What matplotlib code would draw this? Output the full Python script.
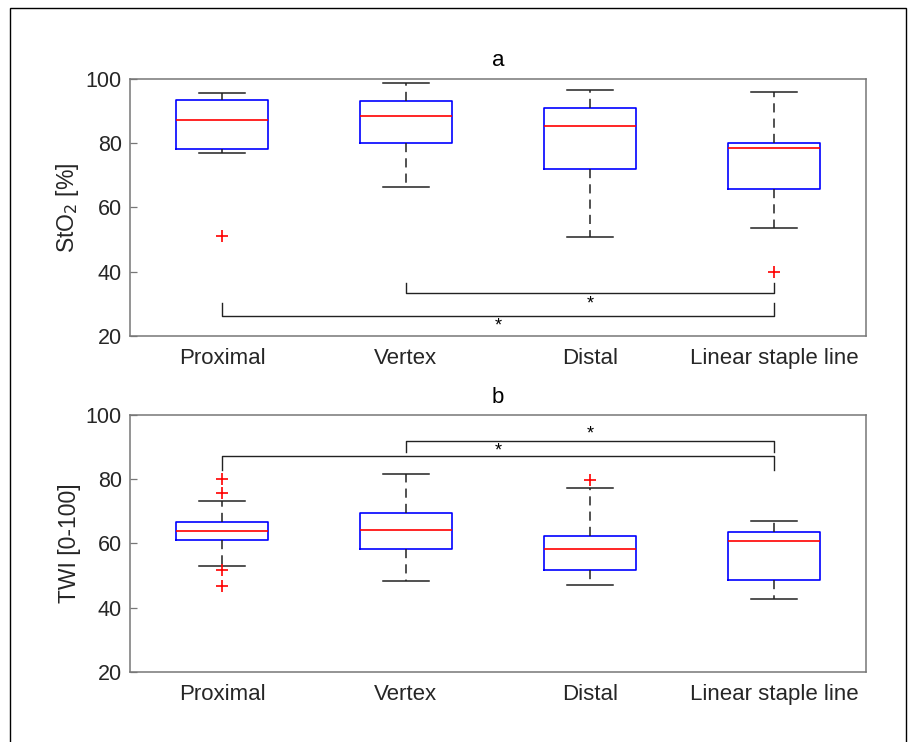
"""
Box plots of StO2 and TWI per measurement site.
"""
import numpy as np
import matplotlib
matplotlib.use('Agg')
import matplotlib.pyplot as plt
import matplotlib.patches as patches

plt.rcParams['font.family'] = ['Liberation Sans', 'DejaVu Sans']

sites = ['Proximal', 'Vertex', 'Distal', 'Linear staple line']

# panel a: StO2 [%]
sto2_whislo = [77.1, 66.3, 50.7, 53.7]
sto2_q1 = [78.1, 80.0, 72.0, 65.9]
sto2_med = [87.2, 88.5, 85.3, 78.6]
sto2_q3 = [93.4, 93.2, 91.1, 80.1]
sto2_whishi = [95.7, 98.8, 96.7, 96.0]
sto2_fliers = [[51.2], [], [], [39.9]]

# panel b: TWI [0-100]
twi_whislo = [52.8, 48.4, 46.9, 42.6]
twi_q1 = [61.1, 58.1, 51.7, 48.5]
twi_med = [63.9, 64.1, 58.3, 60.6]
twi_q3 = [66.7, 69.6, 62.4, 63.6]
twi_whishi = [73.2, 81.5, 77.4, 67.1]
twi_fliers = [[80.2, 75.8, 51.8, 46.8], [], [79.8], []]

# significance brackets: (group i, group j, line level, tick end, star level)
sto2_sig = [(2, 4, 33.3, 36.6, 29.9), (1, 4, 26.3, 30.4, 23.0)]
twi_sig = [(2, 4, 92.0, 88.6, 94.0), (1, 4, 87.1, 82.9, 88.9)]


def make_stats(lo, q1, med, q3, hi, fl):
    stats = []
    for i in range(len(lo)):
        stats.append({'whislo': lo[i], 'q1': q1[i], 'med': med[i],
                      'q3': q3[i], 'whishi': hi[i],
                      'fliers': np.array(fl[i])})
    return stats


def draw_panel(ax, stats, sig, ylabel, title):
    ax.bxp(stats, positions=np.arange(1, 5), widths=0.5,
           showfliers=True,
           boxprops=dict(color='#0000ff', lw=1.2),
           medianprops=dict(color='#ff0000', lw=1.2),
           whiskerprops=dict(color='#222222', lw=1.1,
                             linestyle=(0, (6, 4))),
           capprops=dict(color='#222222', lw=1.1),
           capwidths=0.25,
           flierprops=dict(marker='+', markeredgecolor='#ff0000',
                           markersize=8, mew=1.2))
    for i, j, lev, end, star in sig:
        ax.plot([i, i, j, j], [end, lev, lev, end], color='#222222',
                lw=1.0)
        ax.text((i + j) / 2, star, '*', ha='center', va='center',
                fontsize=13, color='k')
    ax.set_xlim(0.5, 4.5)
    ax.set_ylim(20, 100)
    ax.set_yticks([20, 40, 60, 80, 100])
    ax.set_xticks(np.arange(1, 5))
    ax.set_xticklabels(sites)
    ax.tick_params(axis='x', length=0, pad=9, labelsize=16,
                   labelcolor='#262626')
    ax.tick_params(axis='y', direction='in', length=5, width=0.9,
                   color='#777777', labelsize=15.5, labelcolor='#262626',
                   pad=6)
    for sp in ax.spines.values():
        sp.set_color('#777777')
        sp.set_linewidth(1.1)
    ax.set_ylabel(ylabel, fontsize=16.5, color='#262626', labelpad=3)
    ax.set_title(title, fontsize=16, color='k', pad=9)


fig = plt.figure(figsize=(9.12, 7.42), dpi=100)
fig.patches.append(patches.Rectangle((10 / 912, -0.02), 896 / 912,
                                     1.02 - 8 / 742,
                                     transform=fig.transFigure,
                                     fill=False, edgecolor='k', lw=1.0))

ax_a = fig.add_axes([0.1425, 0.5472, 0.807, 0.3464])
ax_b = fig.add_axes([0.1425, 0.0947, 0.807, 0.3460])

draw_panel(ax_a, make_stats(sto2_whislo, sto2_q1, sto2_med, sto2_q3,
                            sto2_whishi, sto2_fliers),
           sto2_sig, 'StO$_2$ [%]', 'a')
draw_panel(ax_b, make_stats(twi_whislo, twi_q1, twi_med, twi_q3,
                            twi_whishi, twi_fliers),
           twi_sig, 'TWI [0-100]', 'b')

fig.savefig('out.png', dpi=100)
